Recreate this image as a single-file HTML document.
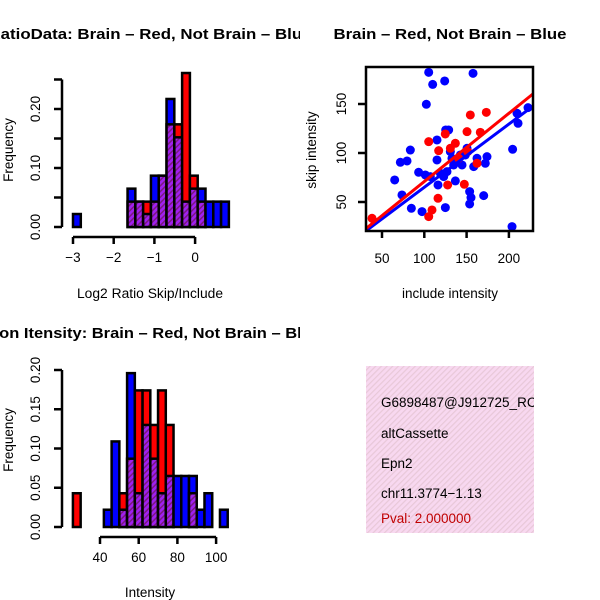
<!DOCTYPE html>
<html><head><meta charset="utf-8"><style>
html,body{margin:0;padding:0;background:#fff;}
svg{display:block;font-family:"Liberation Sans",sans-serif;}
</style></head><body>
<svg id="c" width="600" height="600" viewBox="0 0 600 600">
<defs>
<pattern id="ph" patternUnits="userSpaceOnUse" width="4" height="4" patternTransform="rotate(45)">
<rect width="4" height="4" fill="#a020f0"/><rect width="1.5" height="4" fill="#7a1a80"/></pattern>
<pattern id="pk" patternUnits="userSpaceOnUse" width="4" height="4" patternTransform="rotate(45)">
<rect width="4" height="4" fill="#f8d8f0"/><rect width="1.2" height="4" fill="#e8c8d8"/></pattern>
<clipPath id="leftclip"><rect x="0" y="0" width="300" height="600"/></clipPath>
</defs>
<g id="g"></g>
</svg>
<script>
// Top histogram: log2 ratio
const h1Start=-3.0, h1Width=0.1915;
const h1Blue=[0.022,0,0,0,0,0,0,0.065,0.043,0.022,0.087,0.087,0.217,0.152,0.043,0.065,0.065,0.043,0.043,0.043];
const h1Red=[0,0,0,0,0,0,0,0.043,0.043,0.043,0.043,0.087,0.174,0.174,0.261,0.087,0.043,0,0,0];
const h1XTicks=[-3,-2,-1,0];
const h1YTicks=[0,0.05,0.10,0.15,0.20,0.25];
// Bottom histogram: intensity
const h2Start=26, h2Width=4;
const h2Blue=[0,0,0,0,0.022,0.109,0.022,0.196,0.043,0.13,0.087,0.043,0.065,0.065,0.065,0.065,0.022,0.043,0,0.022];
const h2Red=[0.043,0,0,0,0,0,0.043,0.087,0.174,0.174,0.13,0.174,0.13,0,0,0.043,0,0,0,0];
const h2XTicks=[40,60,80,100];
const h2YTicks=[0,0.05,0.10,0.15,0.20];
// Scatter
const blueX=[105.2,157.6,109.9,124.1,102.4,83.5,71.7,79.6,115,125.3,128.8,115,65,93.3,101.2,73.6,84.7,97.3,124.9,116.2,136.7,107.1,119,130.8,132.7,134.7,138.7,144.6,150.5,148.5,158.4,162.3,174.1,172.1,153.6,155.2,153.6,170.2,204.4,203.7,209.6,210.8,222.6,126.8,122.9,142.6];
const blueY=[182.3,181.3,170,173.5,149.7,103,90.5,91.9,113.3,123.5,123.5,92.9,72.5,80.3,77.6,57.2,43.6,40.2,44.3,67.4,71.5,75.9,79.3,101.4,94.6,87.8,91.2,87.8,104.8,98,86.1,94.6,96.3,89.5,60.6,54.5,48,56.5,103.8,24.9,140.5,130.3,146.3,81,75.9,98];
const redX=[38.2,105.2,109.1,116.2,127.6,147.3,105.2,117,124.8,136.7,130.8,150.5,154.4,173.3,166.2,162.3,140.6,151.4];
const redY=[33.4,35.1,41.9,53.8,67.4,68.1,111.6,102.4,119.4,109.9,104.8,121.8,138.8,141.5,121.1,89.5,94.6,101.4];
const fitSlope=[0.696,0.645]; // red, blue
const fitIntercept=[1.3,0.5];
const scXTicks=[50,100,150,200];
const scYTicks=[50,100,150];

const g=document.getElementById('g');
const NS='http://www.w3.org/2000/svg';
function mk(tag,attrs,parent){const e=document.createElementNS(NS,tag);for(const k in attrs)e.setAttribute(k,attrs[k]);(parent||g).appendChild(e);return e;}
function txt(s,x,y,o,parent){const e=mk('text',Object.assign({x:x,y:y,'font-size':13.5,'text-anchor':'middle'},o||{}),parent);e.textContent=s;return e;}
const left=mk('g',{'clip-path':'url(#leftclip)'});

function hist(cfg){
  const grp=mk('g',{},left);
  
  
  const sx=v=>cfg.x0+(v-cfg.xa)*cfg.kx, sy=v=>cfg.y0-v*cfg.ky;
  const n=cfg.blue.length;
  for(let i=0;i<n;i++){
    const b=cfg.blue[i], r=cfg.red[i];
    const xl=sx(cfg.start+i*cfg.width), xr=sx(cfg.start+(i+1)*cfg.width);
    const mx=Math.max(b,r), mn=Math.min(b,r);
    const bar=mk('rect',{x:xl,y:sy(mx),width:xr-xl,height:sy(0)-sy(mx),fill:b>=r?'#0000ff':'#ff0000',stroke:'#000','stroke-width':2.5},grp);
    
    
    if(mn>0){
      const ov=mk('rect',{x:xl,y:sy(mn),width:xr-xl,height:sy(0)-sy(mn),fill:'url(#ph)',stroke:'#000','stroke-width':2.5},grp);
      
      
    }
  }
  const yt=cfg.yticks;
  mk('line',{x1:cfg.axX,x2:cfg.axX,y1:sy(yt[0]),y2:sy(yt[yt.length-1]),stroke:'#000','stroke-width':2.5},grp);
  yt.forEach((v,i)=>{const y=sy(v);mk('line',{x1:cfg.axX-8,x2:cfg.axX,y1:y,y2:y,stroke:'#000','stroke-width':2.5},grp);
    if(i%2===0||cfg.allY){const t=txt(v.toFixed(2),40,y,{transform:'rotate(-90 40 '+y+')'},grp);}});
  const xt=cfg.xticks;
  mk('line',{x1:sx(xt[0]),x2:sx(xt[xt.length-1]),y1:cfg.axY,y2:cfg.axY,stroke:'#000','stroke-width':2.5},grp);
  xt.forEach(v=>{const x=sx(v);mk('line',{x1:x,x2:x,y1:cfg.axY,y2:cfg.axY+7,stroke:'#000','stroke-width':2.5},grp);
    const t=txt(String(v).replace('-','\u2212'),x,cfg.axY+25,{},grp);});
}

hist({name:'ratio-histogram',start:h1Start,width:h1Width,blue:h1Blue,red:h1Red,xa:-3,x0:73,kx:40.7,y0:227,ky:590,axX:62,axY:237,xticks:h1XTicks,yticks:h1YTicks});
hist({name:'intensity-histogram',start:h2Start,width:h2Width,blue:h2Blue,red:h2Red,xa:40,x0:100,kx:1.935,y0:527,ky:785,axX:62,axY:537,xticks:h2XTicks,yticks:h2YTicks,allY:true});

let t;
t=txt('RatioData: Brain \u2013 Red, Not Brain \u2013 Blue',150,39,{'font-weight':'bold','font-size':15,textLength:323,lengthAdjust:'spacingAndGlyphs'},left);
t=txt('Frequency',13,150,{transform:'rotate(-90 13 150)'},left);
t=txt('Log2 Ratio Skip/Include',150,298,{textLength:146,lengthAdjust:'spacingAndGlyphs'},left);
t=txt('Exon Itensity: Brain \u2013 Red, Not Brain \u2013 Blue',150,338,{'font-weight':'bold','font-size':15,textLength:342,lengthAdjust:'spacingAndGlyphs'},left);
t=txt('Frequency',13,440,{transform:'rotate(-90 13 440)'},left);
t=txt('Intensity',150,597,{},left);

// scatter
const sc=mk('g',{});


const px=v=>382+(v-50)*0.846, py=v=>202-(v-50)*0.98;
const cp=mk('clipPath',{id:'scclip'},sc);mk('rect',{x:366,y:67,width:167,height:164},cp);
const inner=mk('g',{'clip-path':'url(#scclip)'},sc);
blueX.forEach((x,i)=>{const c=mk('circle',{cx:px(x),cy:py(blueY[i]),r:4.5,fill:'#0000ff'},inner);});
redX.forEach((x,i)=>{const c=mk('circle',{cx:px(x),cy:py(redY[i]),r:4.5,fill:'#ff0000'},inner);});
const fx0=20,fx1=240;
['#0000ff','#ff0000'].forEach((col)=>{const j=col==='#ff0000'?0:1;
  const l=mk('line',{x1:px(fx0),y1:py(fitIntercept[j]+fitSlope[j]*fx0),x2:px(fx1),y2:py(fitIntercept[j]+fitSlope[j]*fx1),stroke:col,'stroke-width':3},inner);
  });
mk('rect',{x:366,y:67,width:167,height:164,fill:'none',stroke:'#000','stroke-width':2.5},sc);
scXTicks.forEach(v=>{const x=px(v);mk('line',{x1:x,x2:x,y1:231,y2:238,stroke:'#000','stroke-width':2.5},sc);
  const tt=txt(String(v),x,263,{},sc);});
scYTicks.forEach(v=>{const y=py(v);mk('line',{x1:358,x2:366,y1:y,y2:y,stroke:'#000','stroke-width':2.5},sc);
  const tt=txt(String(v),346,y,{transform:'rotate(-90 346 '+y+')'},sc);});
t=txt('Brain \u2013 Red, Not Brain \u2013 Blue',450,39,{'font-weight':'bold','font-size':15,textLength:233,lengthAdjust:'spacingAndGlyphs'});
t=txt('skip intensity',316,150,{transform:'rotate(-90 316 150)'});
t=txt('include intensity',450,298);

// info box
const ib=mk('g',{});


const icp=mk('clipPath',{id:'ibclip'},ib);mk('rect',{x:366,y:366,width:168,height:167},icp);
mk('rect',{x:366,y:366,width:168,height:167,fill:'url(#pk)'},ib);
const ig=mk('g',{'clip-path':'url(#ibclip)'},ib);
[['G6898487@J912725_RC','#000',407],['altCassette','#000',438],['Epn2','#000',468],['chr11.3774\u22121.13','#000',498],['Pval: 2.000000','#c00000',523]].forEach((d,i)=>{
  const e=txt(d[0],381,d[2],{'text-anchor':'start',fill:d[1],'font-size':13.5},ig);
  
  
});
</script>
</body></html>
